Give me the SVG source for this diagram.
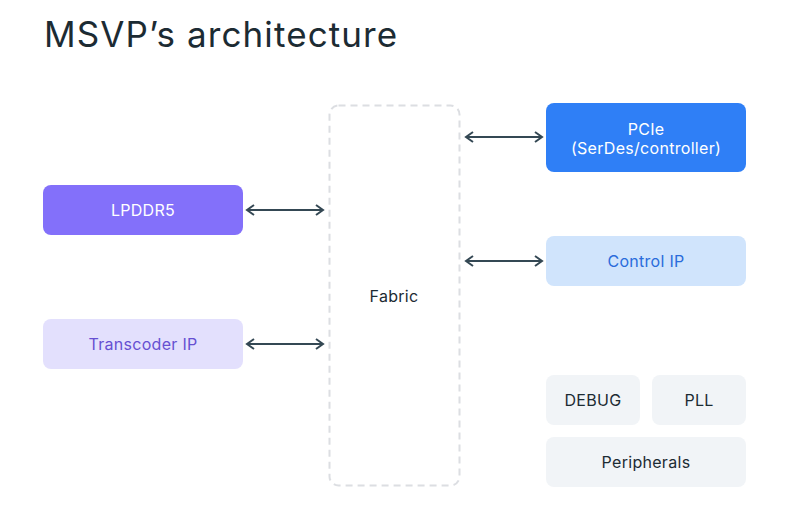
<svg xmlns="http://www.w3.org/2000/svg" width="789" height="509" viewBox="0 0 789 509">
<defs>
<style>
text{font-family:Inter,"Liberation Sans",sans-serif;text-anchor:middle;}
.t{font-size:16px;letter-spacing:0.3px;}
.c{stroke:#344854;stroke-width:2;fill:none;}
</style>
<marker id="a" markerWidth="10" markerHeight="12" refX="8" refY="6" orient="auto-start-reverse" markerUnits="userSpaceOnUse">
<path d="M1,1 L8,6 L1,11" fill="none" stroke="#344854" stroke-width="2"/>
</marker>
</defs>
<rect width="789" height="509" fill="#ffffff"/>
<text x="44" y="47" style="font-size:35px;text-anchor:start;fill:#1c2b33;font-weight:400;letter-spacing:1.1px">MSVP’s architecture</text>
<g id="fabric">
<rect x="329.5" y="105.5" width="130" height="380" rx="9" fill="none" stroke="#dcdee2" stroke-width="2" stroke-dasharray="7,5"/>
<text x="394" y="302" class="t" fill="#1c2b33">Fabric</text>
</g>
<g id="lpddr5">
<rect x="43" y="185" width="200" height="50" rx="8" fill="#8370fa"/>
<text x="143" y="216" class="t" fill="#ffffff">LPDDR5</text>
</g>
<g id="transcoder">
<rect x="43" y="319" width="200" height="50" rx="8" fill="#e3e0fd"/>
<text x="143" y="350" class="t" fill="#6650d2">Transcoder IP</text>
</g>
<g id="pcie">
<rect x="546" y="103" width="200" height="69" rx="8" fill="#2f7ff6"/>
<text x="646" y="135" class="t" fill="#ffffff">PCIe</text>
<text x="646" y="154" class="t" fill="#ffffff">(SerDes/controller)</text>
</g>
<g id="control">
<rect x="546" y="236" width="200" height="50" rx="8" fill="#d0e4fc"/>
<text x="646" y="267" class="t" fill="#2a6cdb">Control IP</text>
</g>
<g id="debug">
<rect x="546" y="375" width="94" height="50" rx="8" fill="#f1f4f7"/>
<text x="593" y="406" class="t" fill="#1c2b33">DEBUG</text>
</g>
<g id="pll">
<rect x="652" y="375" width="94" height="50" rx="8" fill="#f1f4f7"/>
<text x="699" y="406" class="t" fill="#1c2b33">PLL</text>
</g>
<g id="peripherals">
<rect x="546" y="437" width="200" height="50" rx="8" fill="#f1f4f7"/>
<text x="646" y="468" class="t" fill="#1c2b33">Peripherals</text>
</g>
<g id="connectors">
<line class="c" x1="247" y1="210" x2="323" y2="210" marker-start="url(#a)" marker-end="url(#a)"/>
<line class="c" x1="247" y1="344" x2="323" y2="344" marker-start="url(#a)" marker-end="url(#a)"/>
<line class="c" x1="466" y1="137" x2="542" y2="137" marker-start="url(#a)" marker-end="url(#a)"/>
<line class="c" x1="466" y1="261" x2="542" y2="261" marker-start="url(#a)" marker-end="url(#a)"/>
</g>
</svg>
